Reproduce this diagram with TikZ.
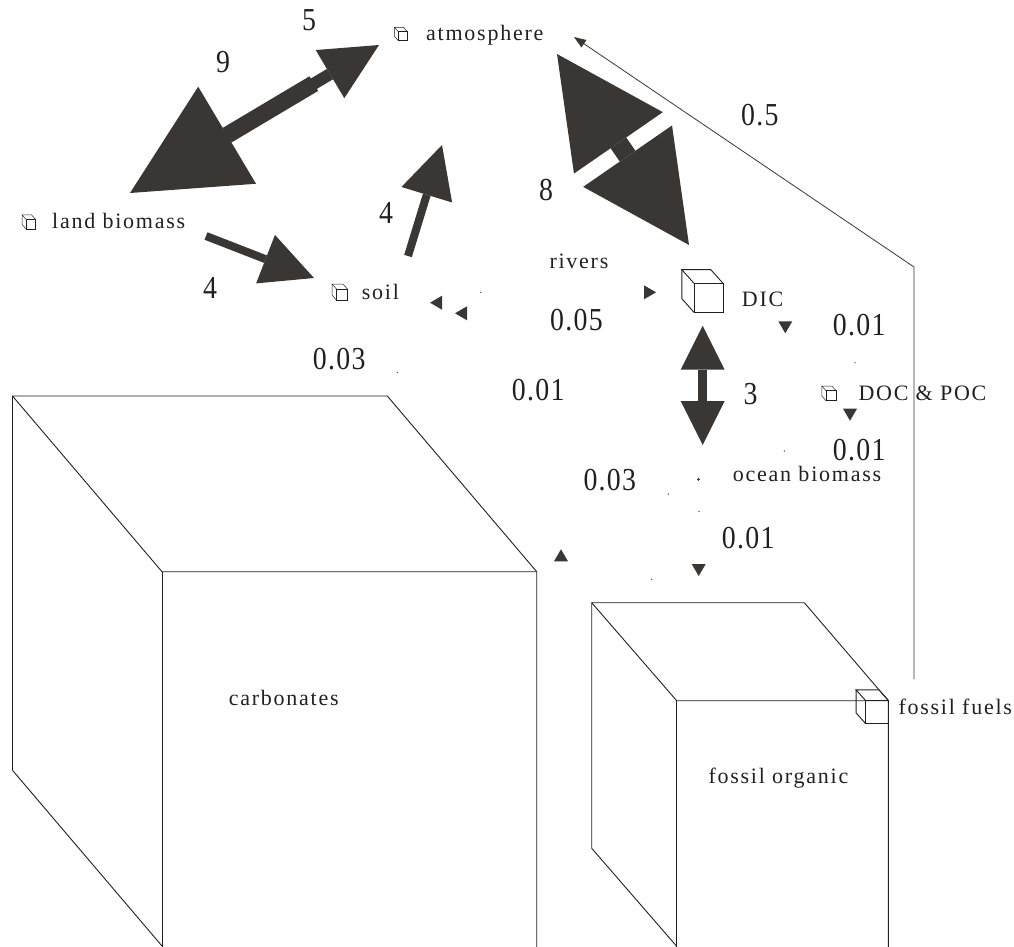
\documentclass[tikz,border=0pt]{standalone}
\usepackage{fontspec}
\setmainfont{Liberation Serif}
\newfontfamily\poolfont[LetterSpace=8]{Liberation Serif}
\newfontfamily\ratefont[FakeStretch=0.87, LetterSpace=4]{Liberation Serif}
\usetikzlibrary{arrows.meta}

\definecolor{fluxgray}{RGB}{58,54,52}
\definecolor{inkgray}{RGB}{35,31,32}

\tikzset{
  pics/cube/.style={code={
    \draw (0,0) rectangle (1,1);
    \draw (0,0) -- (-0.42,-0.47) -- (0.58,-0.47) -- (1,0);
    \draw (-0.42,-0.47) -- (-0.42,0.53) -- (0,1);
  }},
  pool/.style={font=\poolfont\fontsize{22}{24}\selectfont, inner sep=0pt, anchor=base west, text=inkgray},
  rate/.style={font=\ratefont\fontsize{32}{34}\selectfont, inner sep=0pt, anchor=base west, text=inkgray},
  edge/.style={draw=inkgray, line width=0.9pt},
  flux/.style={fluxgray, line width=#1},
  tinyflux/.style={tips, fluxgray, -{Triangle[length=12pt,width=14pt,line width=0pt]}}
}

\begin{document}
\begin{tikzpicture}[x=1pt, y=-1pt]
\useasboundingbox (0,0) rectangle (1014,946);
\clip (0,0) rectangle (1014,946);

% reservoirs
\draw[edge] (12.5,770.3) -- (12.5,396) -- (387.3,396) -- (536.7,571.7) -- (536.7,950);
\draw[edge] (12.5,396) -- (162,571.7) -- (536.7,571.7);
\draw[edge] (162,571.7) -- (162,950);
\draw[edge] (12.5,770.3) -- (162,946);
\draw[edge] (591.7,848.3) -- (591.7,602.7) -- (804.3,602.7) -- (888.3,700.7) -- (888.3,950);
\draw[edge] (591.7,602.7) -- (676.7,700.7) -- (888.3,700.7);
\draw[edge] (676.7,700.7) -- (676.7,950);
\draw[edge] (591.7,848.3) -- (676.7,946.3);

% cube icons
\pic (atmicon) [draw=inkgray, line width=0.5pt, scale=9] at (398.3,31.7) {cube};
\pic (landicon) [draw=inkgray, line width=0.5pt, scale=9.5] at (26,219.3) {cube};
\pic (soilicon) [draw=inkgray, line width=0.5pt, scale=11] at (336.7,289.3) {cube};
\pic (docicon) [draw=inkgray, line width=0.5pt, scale=10] at (826,390.7) {cube};
\pic (dicicon) [draw=inkgray, line width=0.9pt, scale=29] at (694,283.3) {cube};
\pic (fficon) [draw=inkgray, line width=0.9pt, scale=23] at (865.7,700.7) {cube};

% pool labels
\node (atm) [pool] at (426,40) {atmosphere};
\node (land) [pool] at (52,228.3) {land biomass};
\node (soil) [pool] at (361.7,299.3) {soil};
\node (rivers) [pool] at (549.3,268.3) {rivers};
\node (dic) [pool] at (741.7,306) {DIC};
\node (doc) [pool] at (858.3,400) {DOC \& POC};
\node (ocean) [pool] at (732.7,481.7) {ocean biomass};
\node (ffuel) [pool] at (898.3,714.3) {fossil fuels};
\node (forg) [pool] at (708.3,783.3) {fossil organic};
\node (carb) [pool] at (228.6,705.7) {carbonates};

% flux values
\node (r5) [rate] at (302,30) {5};
\node (r9) [rate] at (216,72) {9};
\node (rff) [rate] at (741,125) {0.5};
\node (r8) [rate] at (539,200) {8};
\node (r4a) [rate] at (379,223) {4};
\node (r4b) [rate] at (203,298) {4};
\node (rriv) [rate] at (550,330.7) {0.05};
\node (rdoc) [rate] at (832.7,335) {0.01};
\node (rsoil) [rate] at (312.7,369.3) {0.03};
\node (rmid) [rate] at (511.7,400) {0.01};
\node (r3) [rate] at (743.3,404) {3};
\node (rpoc) [rate] at (832.7,460) {0.01};
\node (rcarb) [rate] at (583.3,490.7) {0.03};
\node (rorg) [rate] at (721.7,548.3) {0.01};

% big fluxes
\coordinate (land-in) at (130,193);
\coordinate (land-out) at (181.5,162.3);
\coordinate (atm-land) at (379,45);
\coordinate (shaft-step) at (313.8,83.6);
\draw[flux=12, -{Triangle[length=57pt,width=56pt,line width=0pt]}] (land-out) -- (atm-land);
\draw[flux=17, -{Triangle[length=113pt,width=113pt,line width=0pt]}] (shaft-step) -- (land-in);

\coordinate (atm-dic) at (557,54);
\coordinate (dic-atm) at (689,245);
\draw[flux=19, {Triangle[length=108pt,width=108pt,line width=0pt]}-{Triangle[length=108pt,width=108pt,line width=0pt]}] (atm-dic) -- (dic-atm);

\coordinate (soil-out) at (408,256);
\coordinate (atm-soil) at (442,145);
\draw[flux=8, -{Triangle[length=52pt,width=53pt,line width=0pt]}] (soil-out) -- (atm-soil);

\coordinate (land-soil) at (206,236);
\coordinate (soil-in) at (314,278);
\draw[flux=8, -{Triangle[length=52pt,width=52pt,line width=0pt]}] (land-soil) -- (soil-in);

\coordinate (dic-ocean) at (702.7,325.7);
\coordinate (ocean-dic) at (702.7,445);
\draw[flux=9, {Triangle[length=44pt,width=44pt,line width=0pt]}-{Triangle[length=44pt,width=44pt,line width=0pt]}] (dic-ocean) -- (ocean-dic);

% fossil fuel burning
\coordinate (ff-out) at (914,679);
\coordinate (ff-bend) at (914,267);
\coordinate (atm-ff) at (574,37);
\draw[fluxgray, line width=0.8pt, -{Triangle[length=12pt,width=9pt,line width=0pt]}] (ff-out) -- (ff-bend) -- (atm-ff);

% small fluxes
\foreach \sx/\sy/\tx/\ty in {460/302.7/430/302.7, 485/313.3/455/313.3, 480.7/292.3/656/292.3,
  785.3/300/785.3/333.3, 850/380/850/420.7, 561/590/561/549.3, 698.7/540/698.7/576}
  \path[tinyflux] (\sx,\sy) -- (\tx,\ty);

% flux origins
\foreach \dx/\dy in {480.7/292.3, 397.3/372.3, 855/362.7, 784.3/451, 668.3/494.2, 699/511.3, 651.7/579.3}
  \fill[fluxgray] (\dx,\dy) circle (0.7);
\fill[fluxgray] (698.5,479.3) circle (1.5);
\end{tikzpicture}
\end{document}
